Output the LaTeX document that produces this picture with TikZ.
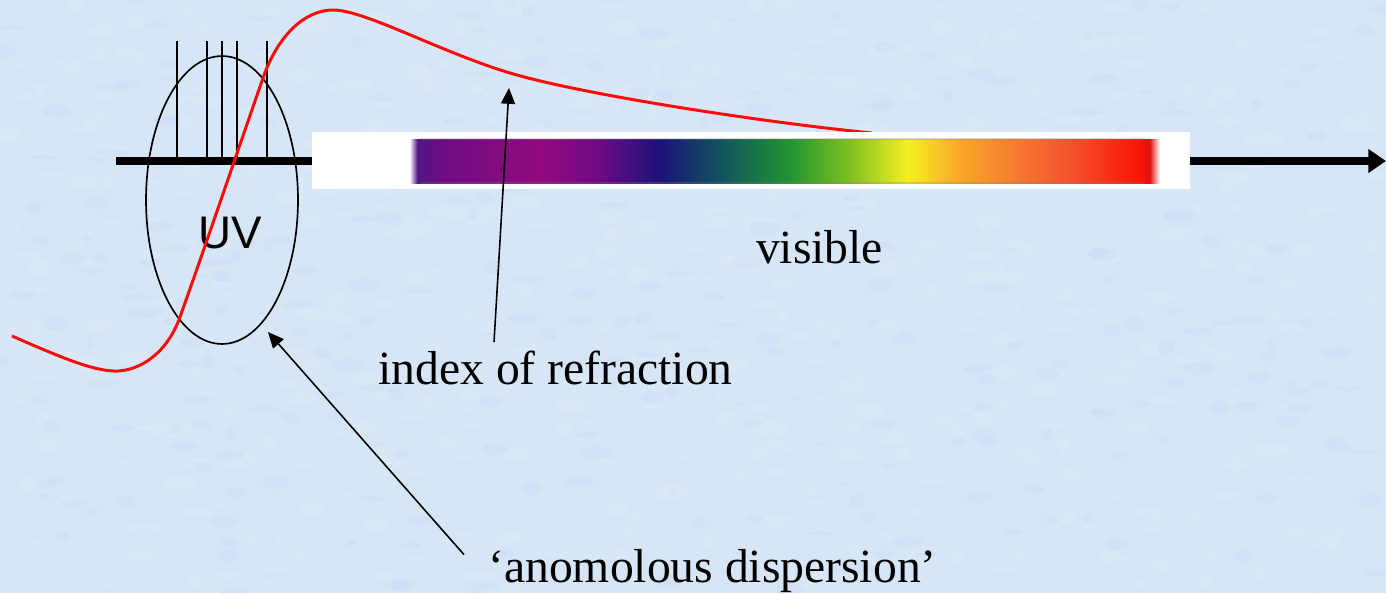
\documentclass[tikz,border=0pt]{standalone}
\usepackage{fontspec}
\setmainfont{Liberation Serif}
\newfontfamily\uvfont{Liberation Sans}
\usetikzlibrary{arrows.meta,shapes.geometric}

\definecolor{bgblue}{RGB}{215,230,246}
\definecolor{curvered}{RGB}{250,12,12}
% spectrum colours, left to right
\definecolor{spA}{RGB}{250,240,250}
\definecolor{spB}{RGB}{78,22,128}
\definecolor{spC}{RGB}{108,12,130}
\definecolor{spD}{RGB}{146,10,126}
\definecolor{spE}{RGB}{108,10,132}
\definecolor{spF}{RGB}{28,18,120}
\definecolor{spG}{RGB}{16,82,94}
\definecolor{spH}{RGB}{33,149,48}
\definecolor{spI}{RGB}{128,192,32}
\definecolor{spJ}{RGB}{245,240,32}
\definecolor{spK}{RGB}{248,168,40}
\definecolor{spL}{RGB}{245,120,48}
\definecolor{spM}{RGB}{245,74,44}
\definecolor{spN}{RGB}{250,21,5}
\definecolor{spO}{RGB}{224,16,16}
\pgfdeclarehorizontalshading{spectrum}{100bp}{color(0bp)=(spA); color(25bp)=(spA);
  color(25.5bp)=(spB); color(27bp)=(spC); color(33.8bp)=(spD); color(37.6bp)=(spE);
  color(41.6bp)=(spF); color(45.6bp)=(spG); color(50.3bp)=(spH); color(54.3bp)=(spI);
  color(58.2bp)=(spJ); color(61.6bp)=(spK); color(65.6bp)=(spL); color(69.6bp)=(spM);
  color(73.6bp)=(spN); color(74.3bp)=(spO); color(75bp)=(white); color(100bp)=(white)}

\begin{document}
\begin{tikzpicture}[x=0.02cm,y=-0.02cm,
    lbl/.style={font=\fontsize{27.1}{30}\selectfont,anchor=base,inner sep=0pt},
    thinline/.style={line width=0.95pt},
    axisline/.style={line width=4pt,-{Triangle[length=10pt,width=13pt]}},
    pointer/.style={line width=0.9pt,-{Triangle[length=9pt,width=8pt]}}]
  \useasboundingbox (0,0) rectangle (1386,593);
  \fill[bgblue] (0,0) rectangle (1386,593);
  % mottled paper
  \pgfmathsetseed{7}
  \foreach \k in {1,...,700}
    \fill[white,opacity=0.07] (1386*rnd,593*rnd) ellipse [x radius=4+14*rnd, y radius=2+6*rnd];
  \foreach \k in {1,...,300}
    \fill[blue!30!bgblue,opacity=0.06] (1386*rnd,593*rnd) ellipse [x radius=4+12*rnd, y radius=2+5*rnd];

  % absorption lines
  \foreach \xv in {177,207,222,237,267}
    \draw[thinline] (\xv,41) -- (\xv,161);

  \coordinate (axisL) at (116,161);
  \coordinate (axisR) at (1386,161);
  \draw[axisline] (axisL) -- (axisR);

  \node[draw,ellipse,thinline,minimum width=3.04cm,minimum height=5.76cm,inner sep=0pt] (uvring) at (222,200) {};
  \node[font=\uvfont\fontsize{26}{28}\selectfont,anchor=base,inner sep=0pt] (uv) at (230,248) {UV};

  % index of refraction
  \draw[curvered,line width=1.7pt] (12,336) .. controls (60,357) and (95,372) .. (118,371)
    .. controls (138,370) and (166,356) .. (180,317)
    .. controls (205,247) and (238,150) .. (263,78)
    .. controls (278,35) and (305,10) .. (333,10)
    .. controls (365,10) and (440,52) .. (510,73)
    .. controls (580,94) and (760,122) .. (872,133);

  % spectrum strip
  \fill[white] (312,132) rectangle (1190,189);
  \shade[shading=spectrum] (410,139) rectangle (1160,183);
  \draw[gray,opacity=0.3,line width=0.6pt] (420,139) -- (1145,139) (420,183) -- (1145,183);

  \node[lbl] (vis) at (819.5,263) {visible};
  \node[lbl] (idx) at (555.5,384) {index of refraction};
  \node[lbl] (ano) at (712.5,582) {‘anomolous dispersion’};

  \coordinate (idxtip) at (509,88);
  \coordinate (anotip) at (268,332);
  \draw[pointer] ([xshift=-1.23cm,yshift=0.16cm]idx.north) -- (idxtip);
  \draw[pointer] ([xshift=-0.48cm,yshift=-0.12cm]ano.north west) -- (anotip);
\end{tikzpicture}
\end{document}
